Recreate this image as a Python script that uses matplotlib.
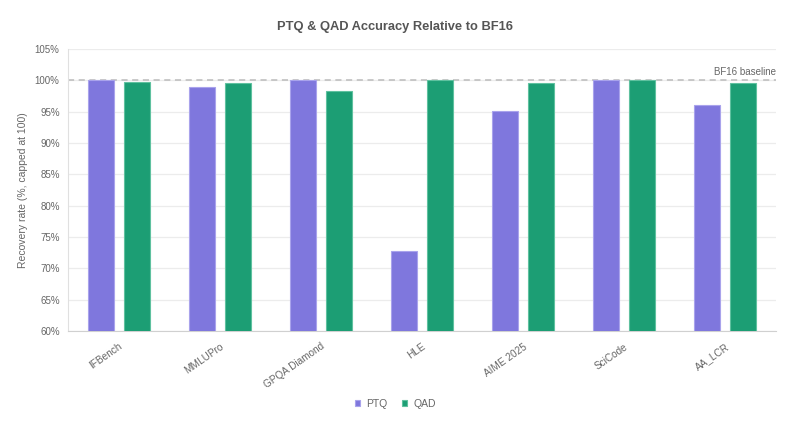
#!/usr/bin/env python

""" PTQ vs QAD accuracy recovery relative to BF16, grouped bar chart. """

import numpy as np
import matplotlib
matplotlib.use("Agg")
import matplotlib.pyplot as plt

plt.rcParams['font.family'] = ['Liberation Sans', 'DejaVu Sans']

# Data
benchmarks = ["IFBench", "MMLUPro", "GPQA Diamond", "HLE", "AIME 2025",
        "SciCode", "AA_LCR"]
ptq = [100.0, 99.0, 100.0, 72.7, 95.1, 100.0, 96.0]
qad = [99.7, 99.5, 98.3, 100.0, 99.5, 100.0, 99.5]
yticks = [60, 65, 70, 75, 80, 85, 90, 95, 100, 105]

ptq_color = "#7f77dd"
qad_color = "#1c9e74"
text_color = "#666666"

fig = plt.figure(figsize=(8, 4.25), dpi=100)
ax = fig.add_axes([0.085, 0.221, 0.885, 0.664])

x = np.arange(len(benchmarks))
width = 0.257
offset = 0.178

ax.bar(x - offset, ptq, width, color=ptq_color, edgecolor="#a9a3ec",
        linewidth=0.8, label="PTQ", zorder=3)
ax.bar(x + offset, qad, width, color=qad_color, edgecolor="#5fc19f",
        linewidth=0.8, label="QAD", zorder=3)

# BF16 reference line
ax.axhline(100, color="#bbbbbb", linestyle=(0, (4, 3)), linewidth=1.1,
        zorder=2)
ax.text(len(benchmarks) - 0.5, 100.5, "BF16 baseline", ha="right",
        va="bottom", fontsize=7.0, color=text_color)

ax.set_ylim(60, 105)
ax.set_xlim(-0.5, len(benchmarks) - 0.5)
ax.set_yticks(yticks)
ax.set_yticklabels(["%d%%" % t for t in yticks])
ax.set_xticks(x)
ax.set_xticklabels(benchmarks, rotation=35, ha="right",
        rotation_mode="anchor")

ax.grid(axis="y", color="#ececec", linewidth=0.9, zorder=0)
ax.tick_params(axis="both", length=0, colors=text_color, labelsize=7.0)
ax.tick_params(axis="y", pad=6)
ax.tick_params(axis="x", pad=7.5, labelsize=7.2)
for side in ["top", "right"]:
    ax.spines[side].set_visible(False)
ax.spines["left"].set_color("#e0e0e0")
ax.spines["bottom"].set_color("#d0d0d0")

ax.set_ylabel("Recovery rate (%, capped at 100)", color=text_color,
        fontsize=7.5, labelpad=5)
fig.text(0.494, 0.936, "PTQ & QAD Accuracy Relative to BF16", ha="center",
        va="center", fontsize=9.3, fontweight="bold", color="#555555")

fig.legend(loc="center", bbox_to_anchor=(0.494, 0.050), ncol=2,
        frameon=False, fontsize=7.5, handlelength=0.5, handleheight=0.5,
        handletextpad=0.6, columnspacing=1.4, labelcolor=text_color)

fig.savefig("out.png", dpi=100)
